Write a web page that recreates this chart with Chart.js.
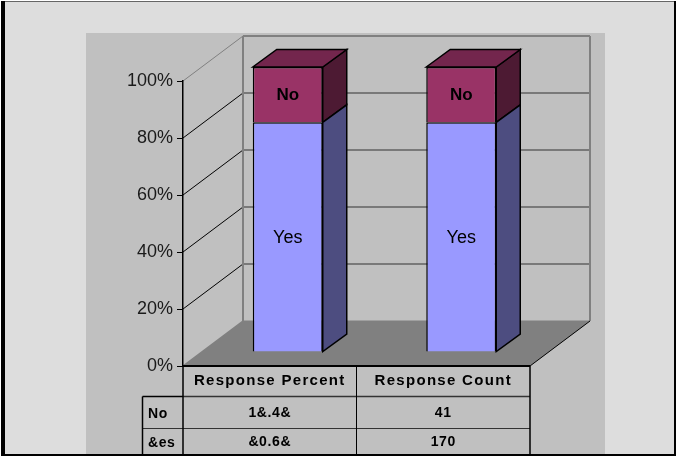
<!DOCTYPE html>
<html>
<head>
<meta charset="utf-8">
<script src="https://cdn.jsdelivr.net/npm/chart.js@4"></script>
<style>
    html, body { margin: 0; padding: 0; background: #fff; overflow: hidden; }
    #chart { display: block; }
</style>
</head>
<body>
<canvas id="chart" width="676" height="457"></canvas>
<script>
// Chart data
const categories = ['Response Percent', 'Response Count'];
const seriesNames = ['Yes', 'No'];
const yesShare = [80.6, 80.6];
const noShare = [19.4, 19.4];
const tickValues = [0, 20, 40, 60, 80, 100];

// Data table under the chart (text is kept as it appears in the picture)
const tableRowNames = ['No', '&es'];
const noCells = ['1&.4&', '41'];
const yesCells = ['&0.6&', '170'];

const FONT = '"Liberation Sans", Arial, sans-serif';

// Depth of the fake 3D box and of the bars
const wallDx = 60, wallDy = -45;
const barOffsetX = 18, barOffsetY = -14;
const barDepthX = 24, barDepthY = -17.5;

function poly(ctx, pts, fill, stroke, lineWidth) {
    ctx.beginPath();
    pts.forEach((p, i) => i ? ctx.lineTo(p[0], p[1]) : ctx.moveTo(p[0], p[1]));
    ctx.closePath();
    if (fill) { ctx.fillStyle = fill; ctx.fill(); }
    if (stroke) { ctx.strokeStyle = stroke; ctx.lineWidth = lineWidth || 1; ctx.stroke(); }
}

function line(ctx, x1, y1, x2, y2, color, width) {
    ctx.beginPath();
    ctx.moveTo(x1, y1);
    ctx.lineTo(x2, y2);
    ctx.strokeStyle = color;
    ctx.lineWidth = width || 1;
    ctx.stroke();
}

// Panels, walls, floor and gridlines go behind everything
const boxPlugin = {
    id: 'box',
    beforeDraw(chart) {
        const ctx = chart.ctx;
        const { left, right, top, bottom } = chart.chartArea;
        const y = chart.scales.y;

        ctx.save();
        ctx.fillStyle = '#ffffff';
        ctx.fillRect(0, 0, 676, 457);
        ctx.fillStyle = '#000000';
        ctx.fillRect(1, 1, 675, 455);
        ctx.fillStyle = '#666666';
        ctx.fillRect(5, 1, 669, 1);
        ctx.fillStyle = '#dddddd';
        ctx.fillRect(5, 2, 669, 452);
        ctx.fillStyle = '#c0c0c0';
        ctx.fillRect(86, 33, 519, 421);

        // floor
        poly(ctx, [[left, bottom], [right, bottom], [right + wallDx, bottom + wallDy], [left + wallDx, bottom + wallDy]], '#808080');

        // back wall and side wall gridlines
        tickValues.forEach(v => {
            const py = y.getPixelForValue(v);
            if (v === 0) return;
            const color = v === 100 ? '#808080' : '#000000';
            line(ctx, left, py, left + wallDx, py + wallDy, color);
            if (v !== 100) line(ctx, left + wallDx, py + wallDy, right + wallDx, py + wallDy, '#333333');
        });
        line(ctx, left + wallDx, top + wallDy, right + wallDx, top + wallDy, '#808080', 2);
        line(ctx, left + wallDx, top + wallDy, left + wallDx, bottom + wallDy, '#808080', 2);
        line(ctx, right + wallDx, top + wallDy, right + wallDx, bottom + wallDy, '#808080', 2);
        line(ctx, left + wallDx, bottom + wallDy, right + wallDx, bottom + wallDy, '#808080', 1);
        line(ctx, left, bottom, left + wallDx, bottom + wallDy, '#808080', 1.5);
        line(ctx, right, bottom, right + wallDx, bottom + wallDy, '#000000', 1);
        ctx.restore();
    },
    // bars are pushed back into the box, then get their side and top faces
    beforeDatasetDraw(chart) {
        chart.ctx.save();
        chart.ctx.translate(barOffsetX, barOffsetY);
    },
    afterDatasetDraw(chart, args) {
        const ctx = chart.ctx;
        const ds = chart.data.datasets[args.index];
        chart.getDatasetMeta(args.index).data.forEach(bar => {
            const { x, y, base, width } = bar.getProps(['x', 'y', 'base', 'width'], true);
            const r = x + width / 2;
            const l = x - width / 2;
            poly(ctx, [[r, y], [r + barDepthX, y + barDepthY], [r + barDepthX, base + barDepthY], [r, base]], ds.sideColor, '#000000', 1.5);
            if (args.index === chart.data.datasets.length - 1) {
                poly(ctx, [[l, y], [l + barDepthX, y + barDepthY], [r + barDepthX, y + barDepthY], [r, y]], ds.topColor, '#000000', 1.5);
            }
        });
        ctx.restore();
    },
    afterDatasetsDraw(chart) {
        const ctx = chart.ctx;
        ctx.save();
        ctx.textAlign = 'center';
        ctx.textBaseline = 'middle';
        chart.data.datasets.forEach((ds, i) => {
            chart.getDatasetMeta(i).data.forEach(bar => {
                const { x, y, base } = bar.getProps(['x', 'y', 'base'], true);
                ctx.fillStyle = '#000000';
                ctx.font = (ds.label === 'No' ? 'bold 17px ' : '18px ') + FONT;
                ctx.fillText(ds.label, x + barOffsetX, (y + base) / 2 + barOffsetY + 1);
            });
        });
        drawTable(chart);
        ctx.restore();
    }
};

// Data table below the axis, columns follow the category scale
function drawTable(chart) {
    const ctx = chart.ctx;
    const { left, right, bottom } = chart.chartArea;
    const x = chart.scales.x;
    const mid = (x.getPixelForValue(0) + x.getPixelForValue(1)) / 2;
    const rowY = [bottom, 396.5, 428.5, 454];
    const tableLeft = 142.5;

    line(ctx, left, bottom, right, bottom, '#000000', 2);
    line(ctx, left, rowY[1], right, rowY[1], '#333333', 1.5);
    line(ctx, tableLeft, rowY[1], left, rowY[1], '#000000', 1.5);
    line(ctx, tableLeft, rowY[2], right, rowY[2], '#333333', 1);
    line(ctx, tableLeft, rowY[1], tableLeft, rowY[3], '#000000', 1.5);
    line(ctx, left, bottom, left, rowY[3], '#000000', 1.5);
    line(ctx, mid, bottom, mid, rowY[3], '#000000', 1);
    line(ctx, right, bottom, right, rowY[3], '#000000', 1.5);

    ctx.fillStyle = '#000000';
    ctx.textBaseline = 'middle';
    ctx.textAlign = 'center';
    ctx.font = 'bold 15px ' + FONT;
    ctx.letterSpacing = '1.3px';
    const colCenters = [(left + mid) / 2, (mid + right) / 2];
    categories.forEach((c, i) => ctx.fillText(c, colCenters[i], 381));
    ctx.font = 'bold 14px ' + FONT;
    ctx.letterSpacing = '0.6px';
    noCells.forEach((c, i) => ctx.fillText(c, colCenters[i], 413));
    yesCells.forEach((c, i) => ctx.fillText(c, colCenters[i], 442));
    ctx.textAlign = 'left';
    ctx.fillText(tableRowNames[0], 148, 414);
    ctx.fillText(tableRowNames[1], 148, 443);
    ctx.letterSpacing = '0px';
}

new Chart(document.getElementById('chart'), {
    type: 'bar',
    data: {
        labels: categories,
        datasets: [
            { label: seriesNames[0], data: yesShare, backgroundColor: '#9999ff', sideColor: '#4d4d80', topColor: '#7373bf', borderColor: '#000000', borderWidth: 1.5, clip: false },
            { label: seriesNames[1], data: noShare, backgroundColor: '#993366', sideColor: '#4d1a33', topColor: '#73264d', borderColor: '#000000', borderWidth: 1.5, clip: false }
        ]
    },
    options: {
        responsive: false,
        animation: false,
        layout: { padding: { left: 60, right: 146, top: 81, bottom: 91 } },
        plugins: { legend: { display: false }, tooltip: { enabled: false } },
        datasets: { bar: { categoryPercentage: 1, barPercentage: 0.4035 } },
        scales: {
            x: {
                stacked: true,
                afterFit(scale) { scale.height = 0; },
                grid: { display: false },
                border: { display: false },
                ticks: { display: false }
            },
            y: {
                stacked: true,
                min: 0,
                max: 100,
                afterFit(scale) { scale.width = 123; },
                afterBuildTicks(scale) { scale.ticks = tickValues.map(v => ({ value: v })); },
                grid: { drawOnChartArea: false, color: '#000000', tickLength: 6 },
                border: { color: '#000000', width: 1.5 },
                ticks: {
                    color: '#1a1a1a',
                    padding: 4,
                    font: { family: FONT, size: 18 },
                    callback: v => v + '%'
                }
            }
        }
    },
    plugins: [boxPlugin]
});
</script>
</body>
</html>
